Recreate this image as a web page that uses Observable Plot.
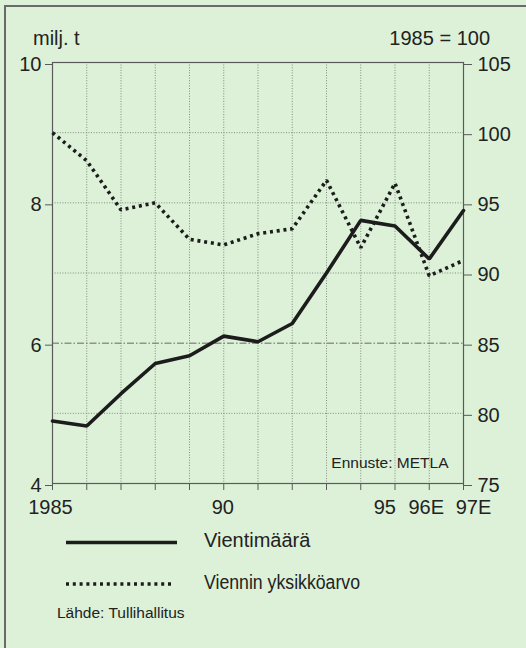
<!DOCTYPE html>
<html>
<head>
<meta charset="utf-8">
<script src="https://cdn.jsdelivr.net/npm/d3@7"></script>
<script src="https://cdn.jsdelivr.net/npm/@observablehq/plot@0.6"></script>
<style>
  html, body { margin: 0; padding: 0; background: #dcf1d8; }
  #wrap { position: relative; width: 526px; height: 648px; background: #dcf1d8; overflow: hidden;
          font-family: "Liberation Sans", Arial, sans-serif; color: #222; }
  #border { position: absolute; left: 4px; top: 5px; width: 600px; height: 700px;
            border-top: 2px solid #6a6a6a; border-left: 2px solid #6a6a6a; }
  #chart { position: absolute; left: 0; top: 0; }
  #overlay { position: absolute; left: 0; top: 0; }
</style>
</head>
<body>
<div id="wrap">
  <div id="border"></div>
  <div id="chart"></div>
  <svg id="overlay" width="526" height="648"></svg>
</div>
<script>
// ---- data ----
const years = [1985, 1986, 1987, 1988, 1989, 1990, 1991, 1992, 1993, 1994, 1995, 1996, 1997];
const vientimaara = [4.89, 4.82, 5.28, 5.71, 5.82, 6.10, 6.02, 6.28, 7.00, 7.75, 7.67, 7.20, 7.89];      // milj. t (left axis)
const yksikkoarvo = [100.0, 98.0, 94.5, 95.0, 92.4, 92.0, 92.8, 93.15, 96.6, 91.8, 96.4, 89.8, 90.9];   // 1985 = 100 (right axis)
const xLabelYears = [1985, 1990, 1995, 1996, 1997];
const xLabelTexts = ["1985", "90", "95", "96E", "97E"];
const leftTicks = [4, 6, 8, 10];
const rightTicks = [75, 80, 85, 90, 95, 100, 105];
const dottedGridRight = [80, 90, 95, 100];
const dashedGridRight = [85];

// right axis (index) mapped onto left axis (milj. t): 75..105 -> 4..10
const rightToLeft = v => 4 + (v - 75) / 5;

const rows = years.map((yr, i) => ({year: yr, volume: vientimaara[i], unit: yksikkoarvo[i]}));
const labelMap = new Map(xLabelYears.map((y, i) => [y, xLabelTexts[i]]));
const innerYears = years.slice(1, -1);

const gridColor = "#7f8e7d";
const axisColor = "#5a5a5a";
const txt = "#222";

function xLabel(year, opts) {
  return Plot.axisX([year], {anchor: "bottom", tickSize: 0, tickPadding: 16, label: null,
    tickFormat: d => labelMap.get(d), fill: txt, fontSize: 20, ...opts});
}

const chart = Plot.plot({
  width: 526,
  height: 530,
  marginTop: 62,
  marginBottom: 47,
  marginLeft: 52,
  marginRight: 63,
  style: {background: "transparent", fontFamily: "'Liberation Sans', Arial, sans-serif", fontSize: "20px", color: txt},
  x: {domain: [1985, 1997]},
  y: {domain: [4, 10]},
  marks: [
    Plot.gridX(innerYears, {stroke: gridColor, strokeOpacity: 1, strokeWidth: 1, strokeDasharray: "1,1.6"}),
    Plot.gridY(dottedGridRight.map(rightToLeft), {stroke: gridColor, strokeOpacity: 1, strokeWidth: 1, strokeDasharray: "1,1.6"}),
    Plot.gridY(dashedGridRight.map(rightToLeft), {stroke: "#666", strokeOpacity: 1, strokeWidth: 1, strokeDasharray: "7,2,1.5,2"}),
    Plot.frame({stroke: axisColor, strokeWidth: 1.2}),
    Plot.axisY(leftTicks, {anchor: "left", tickSize: 7, tickPadding: 4, label: null,
      tickFormat: d => String(d), stroke: axisColor, fill: txt, fontSize: 20, dy: 2}),
    Plot.axisY(rightTicks.map(rightToLeft), {anchor: "right", tickSize: 8, tickPadding: 6, label: null,
      tickFormat: d => String(Math.round(75 + (d - 4) * 5)), stroke: axisColor, fill: txt, fontSize: 20, dy: 2}),
    Plot.axisX(years, {anchor: "bottom", tickSize: 7, label: null, tickFormat: () => "", stroke: axisColor}),
    xLabel(1985, {dx: -2}),
    xLabel(1990, {dx: -1}),
    xLabel(1995, {textAnchor: "end", dx: 1}),
    xLabel(1996, {dx: -3}),
    xLabel(1997, {dx: 10}),
    Plot.line(rows, {x: "year", y: d => rightToLeft(d.unit), stroke: "#1c1c1c", strokeWidth: 3.6,
      strokeDasharray: "3,3.8", strokeLinecap: "butt", strokeLinejoin: "miter"}),
    Plot.line(rows, {x: "year", y: "volume", stroke: "#1c1c1c", strokeWidth: 3.6, strokeLinejoin: "miter"}),
    Plot.text(["Ennuste: METLA"], {frameAnchor: "bottom-right", dx: -15, dy: -16, fontSize: 15.5, fill: txt})
  ]
});
document.getElementById("chart").appendChild(chart);

// ---- header & legend ----
const ns = "http://www.w3.org/2000/svg";
const ov = document.getElementById("overlay");
function add(tag, attrs, text) {
  const el = document.createElementNS(ns, tag);
  for (const k in attrs) el.setAttribute(k, attrs[k]);
  if (text != null) el.textContent = text;
  ov.appendChild(el);
  return el;
}
const ff = "'Liberation Sans', Arial, sans-serif";
add("text", {x: 33, y: 45, "font-family": ff, "font-size": 20, fill: txt}, "milj. t");
add("text", {x: 490, y: 45, "font-family": ff, "font-size": 20, fill: txt, "text-anchor": "end"}, "1985 = 100");
add("line", {x1: 66, x2: 177, y1: 542.5, y2: 542.5, stroke: "#1c1c1c", "stroke-width": 3.6});
add("text", {x: 204, y: 547, "font-family": ff, "font-size": 20, fill: txt}, "Vientimäärä");
add("line", {x1: 66, x2: 174, y1: 584, y2: 584, stroke: "#1c1c1c", "stroke-width": 3.4, "stroke-dasharray": "3,3.8"});
add("text", {x: 204, y: 589, "font-family": ff, "font-size": 20, fill: txt, textLength: 156, lengthAdjust: "spacingAndGlyphs"}, "Viennin yksikköarvo");
add("text", {x: 57, y: 618, "font-family": ff, "font-size": 15.5, fill: txt}, "Lähde: Tullihallitus");
</script>
</body>
</html>
